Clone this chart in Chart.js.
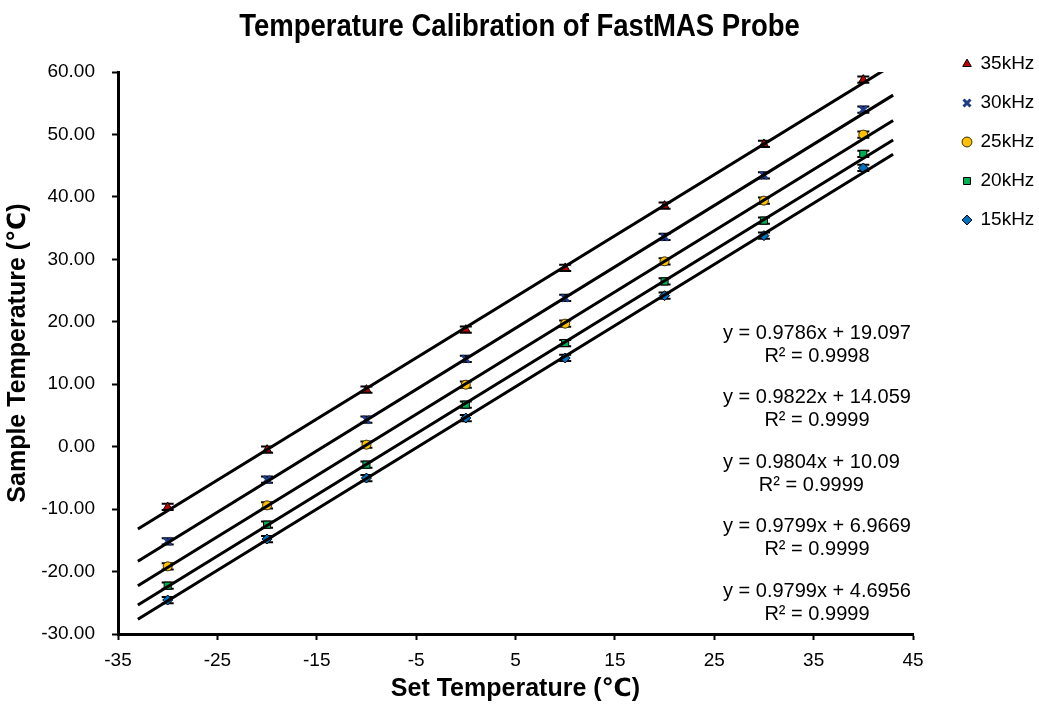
<!DOCTYPE html>
<html>
<head>
<meta charset="utf-8">
<script src="https://cdn.jsdelivr.net/npm/chart.js@4.4.1/dist/chart.umd.min.js"></script>
<style>
  html, body { margin: 0; padding: 0; background: #ffffff; }
  #wrap { width: 1039px; height: 704px; }
</style>
</head>
<body>
<div id="wrap"><canvas id="chart" width="1039" height="704"></canvas></div>
<script>
// Set temperatures (℃) at which the sample temperature was measured
const setTemps = [-30, -20, -10, 0, 10, 20, 30, 40];

// Spinning rates and measured sample temperatures (℃)
const seriesNames = ['35kHz', '30kHz', '25kHz', '20kHz', '15kHz'];
const temps35 = [-9.66, -0.48, 9.13, 18.74, 28.62, 38.60, 48.48, 58.78];
const temps30 = [-15.16, -5.29, 4.32, 14.04, 23.81, 33.58, 43.45, 53.97];
const temps25 = [-19.17, -9.40, 0.32, 9.93, 19.70, 29.68, 39.40, 49.97];
const temps20 = [-22.26, -12.49, -2.88, 6.73, 16.60, 26.47, 36.20, 46.88];
const temps15 = [-24.56, -14.79, -5.02, 4.59, 14.20, 24.18, 33.79, 44.63];

// Standard deviations (℃)
const err35 = [0.5, 0.5, 0.5, 0.5, 0.5, 0.5, 0.5, 0.5];
const err30 = [0.5, 0.5, 0.5, 0.5, 0.5, 0.5, 0.5, 0.5];
const err25 = [0.5, 0.5, 0.5, 0.5, 0.5, 0.5, 0.5, 0.5];
const err20 = [0.5, 0.5, 0.5, 0.5, 0.5, 0.5, 0.5, 0.5];
const err15 = [0.5, 0.5, 0.5, 0.5, 0.5, 0.5, 0.5, 0.5];

// Linear fits: y = slope * x + intercept
const slopes = [0.9786, 0.9822, 0.9804, 0.9799, 0.9799];
const intercepts = ['19.097', '14.059', '10.09', '6.9669', '4.6956'];
const rSquared = ['0.9998', '0.9999', '0.9999', '0.9999', '0.9999'];
const fitRange = [-33, 43];

// Axis ticks
const xTicks = [-35, -25, -15, -5, 5, 15, 25, 35, 45];
const yTicks = [-30, -20, -10, 0, 10, 20, 30, 40, 50, 60];

const seriesValues = [temps35, temps30, temps25, temps20, temps15];
const seriesErrors = [err35, err30, err25, err20, err15];

const markerStyles = [
  { pointStyle: 'triangle', backgroundColor: '#C00000', borderColor: '#000000', borderWidth: 1, radius: 5 },
  { pointStyle: 'crossRot', backgroundColor: '#1F3C88', borderColor: '#1F3C88', borderWidth: 3, radius: 5 },
  { pointStyle: 'circle',   backgroundColor: '#FFC000', borderColor: '#3a2e00', borderWidth: 1, radius: 4.5 },
  { pointStyle: 'rect',     backgroundColor: '#00B050', borderColor: '#000000', borderWidth: 1, radius: 5 },
  { pointStyle: 'rectRot',  backgroundColor: '#0070C0', borderColor: '#000000', borderWidth: 1, radius: 5 }
];

const FONT = '"Liberation Sans", Arial, "DejaVu Sans", sans-serif';
const CHART_TITLE = 'Temperature Calibration of FastMAS Probe';

const pointDatasets = seriesNames.map((name, i) => ({
  label: name,
  data: setTemps.map((x, j) => ({ x: x, y: seriesValues[i][j] })),
  showLine: false,
  pointStyle: markerStyles[i].pointStyle,
  pointRadius: markerStyles[i].radius,
  pointHoverRadius: markerStyles[i].radius,
  backgroundColor: markerStyles[i].backgroundColor,
  borderColor: markerStyles[i].borderColor,
  borderWidth: markerStyles[i].borderWidth,
  pointBorderWidth: markerStyles[i].borderWidth,
  order: 1
}));

const fitDatasets = seriesNames.map((name, i) => ({
  label: name + ' fit',
  data: fitRange.map(x => ({ x: x, y: slopes[i] * x + parseFloat(intercepts[i]) })),
  showLine: true,
  pointRadius: 0,
  pointHoverRadius: 0,
  borderColor: '#000000',
  borderWidth: 3,
  fill: false,
  order: 0
}));

// Vertical error bars with caps, drawn beneath the markers
const errorBars = {
  id: 'errorBars',
  beforeDatasetsDraw(chart) {
    const { ctx, scales: { x, y } } = chart;
    ctx.save();
    ctx.strokeStyle = '#000000';
    ctx.lineWidth = 2;
    seriesValues.forEach((vals, i) => {
      vals.forEach((v, j) => {
        const px = x.getPixelForValue(setTemps[j]);
        const top = y.getPixelForValue(v + seriesErrors[i][j]);
        const bot = y.getPixelForValue(v - seriesErrors[i][j]);
        ctx.beginPath();
        ctx.moveTo(px, top); ctx.lineTo(px, bot);
        ctx.moveTo(px - 6, top); ctx.lineTo(px + 6, top);
        ctx.moveTo(px - 6, bot); ctx.lineTo(px + 6, bot);
        ctx.stroke();
      });
    });
    ctx.restore();
  }
};

// Narrow bold heading centred over the canvas
const heading = {
  id: 'heading',
  afterDraw(chart) {
    const { ctx, width } = chart;
    ctx.save();
    ctx.fillStyle = '#000000';
    ctx.font = 'bold 32px ' + FONT;
    ctx.textAlign = 'center';
    ctx.textBaseline = 'middle';
    ctx.translate(width / 2, 27);
    ctx.scale(0.86, 1);
    ctx.fillText(CHART_TITLE, 0, 0);
    ctx.restore();
  }
};

// Keep the legend column at the right edge of the canvas
const legendPlacement = {
  id: 'legendPlacement',
  afterLayout(chart) {
    const lg = chart.legend;
    if (!lg) return;
    const dx = 943 - lg.left;
    lg.left += dx;
    lg.right += dx;
  }
};

// Fit equations and R² labels
const fitLabels = {
  id: 'fitLabels',
  afterDraw(chart) {
    const { ctx } = chart;
    const left = 723, firstY = 333, step = 64.5, gap = 23;
    ctx.save();
    ctx.fillStyle = '#000000';
    ctx.font = '20px ' + FONT;
    ctx.textBaseline = 'middle';
    slopes.forEach((m, i) => {
      const eq = 'y = ' + m + 'x + ' + intercepts[i];
      const r2 = 'R² = ' + rSquared[i];
      const yPos = firstY + i * step;
      const w = ctx.measureText(eq).width;
      ctx.textAlign = 'left';
      ctx.fillText(eq, left, yPos);
      ctx.textAlign = 'center';
      ctx.fillText(r2, left + w / 2, yPos + gap);
    });
    ctx.restore();
  }
};

Chart.defaults.font.family = FONT;
Chart.defaults.color = '#000000';

new Chart(document.getElementById('chart'), {
  type: 'scatter',
  data: { datasets: [...fitDatasets, ...pointDatasets] },
  options: {
    responsive: false,
    animation: false,
    events: [],
    layout: { padding: { left: 0, right: 5, top: 0, bottom: 0 } },
    plugins: {
      title: { display: false },
      legend: {
        display: true,
        position: 'right',
        align: 'start',
        title: { display: true, text: ' ', font: { size: 10 }, padding: { top: 22.5, bottom: 0 } },
        labels: {
          usePointStyle: true,
          boxWidth: 8,
          boxHeight: 7,
          padding: 20,
          color: '#000000',
          font: { size: 19 },
          filter: (item) => item.text.indexOf('fit') === -1
        }
      },
      tooltip: { enabled: false }
    },
    scales: {
      x: {
        type: 'linear',
        min: xTicks[0],
        max: xTicks[xTicks.length - 1],
        afterBuildTicks: (scale) => { scale.ticks = xTicks.map(v => ({ value: v })); },
        afterFit: (scale) => { scale.height = 70; scale.paddingRight = 126; },
        ticks: { font: { size: 19 }, color: '#000000', padding: 9, maxRotation: 0 },
        grid: { display: true, drawOnChartArea: false, drawTicks: true, tickLength: 6, tickWidth: 2, tickColor: '#000000' },
        border: { display: true, color: '#000000', width: 3 },
        title: { display: true, text: 'Set Temperature (℃)', color: '#000000', font: { size: 25, weight: 'bold' }, padding: { top: 0, bottom: 0 } }
      },
      y: {
        type: 'linear',
        min: yTicks[0],
        max: yTicks[yTicks.length - 1],
        afterBuildTicks: (scale) => { scale.ticks = yTicks.map(v => ({ value: v })); },
        afterFit: (scale) => { scale.width = 118; scale.paddingTop = 72; },
        ticks: { font: { size: 19 }, color: '#000000', padding: 17, callback: (v) => Number(v).toFixed(2) },
        grid: { display: true, drawOnChartArea: false, drawTicks: true, tickLength: 6, tickWidth: 2, tickColor: '#000000' },
        border: { display: true, color: '#000000', width: 3 },
        title: { display: true, text: 'Sample Temperature (℃)', color: '#000000', font: { size: 25, weight: 'bold' }, padding: { top: 3, bottom: 0 } }
      }
    }
  },
  plugins: [errorBars, legendPlacement, heading, fitLabels]
});
</script>
</body>
</html>
